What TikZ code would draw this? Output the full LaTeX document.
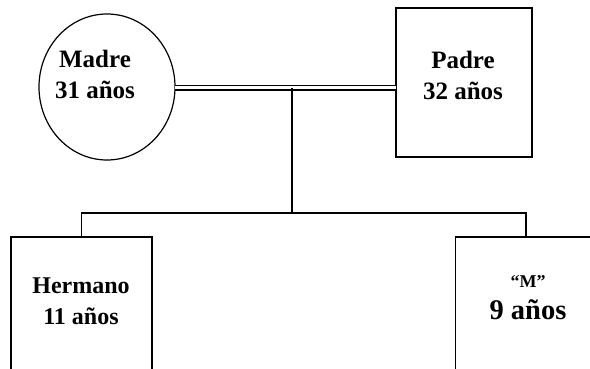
\documentclass[tikz,border=0pt]{standalone}
\usepackage{fontspec}
\setmainfont{Liberation Serif}
\usetikzlibrary{shapes.geometric}
\begin{document}
\begin{tikzpicture}[x=1pt, y=-1pt, line width=1.2pt,
	person/.style = {draw, rectangle, outer sep=0pt, minimum width=136pt},
	txt/.style = {align=center, inner sep=0pt, anchor=north,
		font=\bfseries\fontsize{25}{31}\selectfont}]
	\clip (0,0) rectangle (590,369);
	\node[draw, ellipse, outer sep=0pt, minimum width=136pt, minimum height=146pt] (madre) at (107,87) {};
	\node[person, minimum height=149pt] (padre) at (464,82.5) {};
	\node[person, minimum width=141pt, minimum height=200pt, anchor=north] (hermano) at (81.5,237) {};
	\node[person, minimum width=141pt, minimum height=200pt, anchor=north] (m) at (526,237) {};
	\coordinate (union) at (292,88);
	\coordinate (fork) at (292,213);
	\draw[double, double distance=3pt] (union -| madre.east) -- (union -| padre.west);
	\draw (union) -- (fork);
	\draw (hermano.north) |- (fork) -| (m.north);
	\node[txt] (madretxt) at (95,50) {Madre\\31 años};
	\node[txt] (padretxt) at (463,51) {Padre\\32 años};
	\node[txt, font=\bfseries\fontsize{24}{31}\selectfont] (hermanotxt) at (81,277) {Hermano\\11 años};
	\node[txt, anchor=base, font=\bfseries\fontsize{18}{20}\selectfont] (mname) at (528,287) {“M”};
	\node[txt, anchor=base, font=\bfseries\fontsize{28.5}{32}\selectfont] (mage) at (528,319) {9 años};
\end{tikzpicture}
\end{document}
